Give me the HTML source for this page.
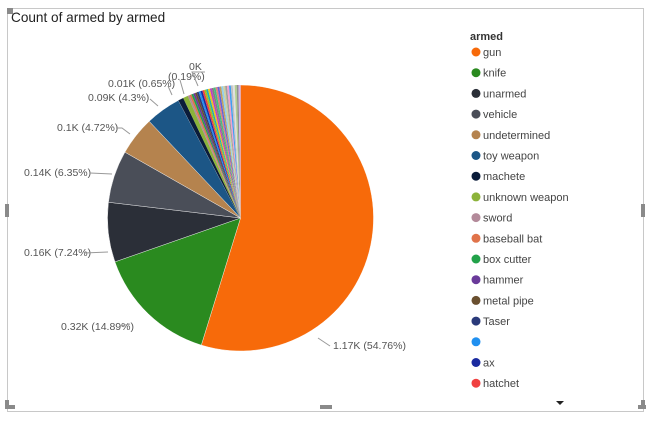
<!DOCTYPE html>
<html><head><style>
body{margin:0;width:653px;height:421px;background:#fff;overflow:hidden;font-family:"Liberation Sans",sans-serif;}
</style></head><body>
<svg id="s" width="653" height="421" xmlns="http://www.w3.org/2000/svg" style="position:absolute;left:0;top:0">
<rect x="7.5" y="8.5" width="636" height="403" fill="none" stroke="#c8c8c8"/>
<rect x="7" y="8" width="6" height="6" fill="#8a8a8a"/>
<rect x="5" y="204" width="4" height="13" fill="#8a8a8a"/>
<rect x="641" y="204" width="4" height="13" fill="#8a8a8a"/>
<rect x="5" y="405" width="10" height="4" fill="#8a8a8a"/><rect x="5" y="400" width="4" height="9" fill="#8a8a8a"/>
<rect x="638" y="405" width="8" height="4" fill="#8a8a8a"/><rect x="641" y="400" width="4" height="9" fill="#8a8a8a"/>
<rect x="320" y="405" width="12" height="4" fill="#8a8a8a"/>
<text x="11" y="22" font-size="13.6" fill="#222">Count of armed by armed</text>
<g id="pie"></g>
<g id="lab" font-size="10.5" fill="#555"></g>
<g id="leg" font-size="11" fill="#444"></g>
<path d="M556 401 L564 401 L560 405 Z" fill="#222"/>
</svg>
<script>
const cx=240.5,cy=218,r=133;
let sl=[[54.76,'#f76a0a'],[14.89,'#2a8a1f'],[7.24,'#2b2f38'],[6.35,'#4a4e58'],[4.72,'#b5834e'],[4.3,'#1c5686'],[0.65,'#0b1c3a'],[0.6,'#8cb33a']];
const cols=['#b38a9a','#e0734a','#22a24a','#6a3a9a','#6a5030','#2a3a7a','#2090f0','#1a2aa0','#f04040','#a0c020','#20b0b0','#f0c020','#c040c0','#808080','#40c080','#e08080','#6060e0','#c0a060','#90d0f0','#d0d0a0','#a0a0a0','#f0a0d0','#40a0f0','#c0c0c0','#e0e0e0','#b0d090','#909090','#d0b0f0'];
let rest=100-sl.reduce((a,b)=>a+b[0],0);
let n=cols.length;for(let i=0;i<n;i++)sl.push([rest/n,cols[i]]);
let a=-Math.PI/2,h='';
for(const [v,c] of sl){let b=a+v/100*2*Math.PI;
let x1=cx+r*Math.cos(a),y1=cy+r*Math.sin(a),x2=cx+r*Math.cos(b),y2=cy+r*Math.sin(b);
let st=v>1?' stroke="#fff" stroke-width="0.4"':'';
h+=`<path d="M${cx} ${cy}L${x1} ${y1}A${r} ${r} 0 ${b-a>Math.PI?1:0} 1 ${x2} ${y2}Z" fill="${c}"${st}/>`;a=b;}
document.getElementById('pie').innerHTML=h;
const L=[["1.17K (54.76%)",333,349,"M318 338 L330 346"],["0.32K (14.89%)",61,330,"M130 324 L120 326"],["0.16K (7.24%)",24,256,"M108 252 L84 253"],["0.14K (6.35%)",24,176,"M112 174 L90 173"],["0.1K (4.72%)",57,131,"M130 134 L122 128 L116 128"],["0.09K (4.3%)",88,101,"M158 106 L150 99"],["0.01K (0.65%)",108,87,"M172 95 L168 86"],["(0.19%)",168,80,"M184 94 L180 80"],["0K",189,70,"M198 86 L192 72 L205 72"]];
let g='';for(const [t,x,y,p] of L){g+=`<text x="${x}" y="${y}">${t}</text><path d="${p}" stroke="#999" fill="none"/>`;}
document.getElementById('lab').innerHTML=g;
const items=[["gun","#f76a0a"],["knife","#2a8a1f"],["unarmed","#2b2f38"],["vehicle","#4a4e58"],["undetermined","#b5834e"],["toy weapon","#1c5686"],["machete","#0b1c3a"],["unknown weapon","#8cb33a"],["sword","#b38a9a"],["baseball bat","#e0734a"],["box cutter","#22a24a"],["hammer","#6a3a9a"],["metal pipe","#6a5030"],["Taser","#2a3a7a"],["","#2090f0"],["ax","#1a2aa0"],["hatchet","#f04040"]];
let lg='<text x="470" y="40" font-weight="bold" fill="#333">armed</text>';
items.forEach(([t,c],i)=>{let y=52+i*20.7;lg+=`<circle cx="476" cy="${y}" r="4.5" fill="${c}"/><text x="483" y="${y+4}">${t}</text>`;});
document.getElementById('leg').innerHTML=lg;
</script>
</body></html>
